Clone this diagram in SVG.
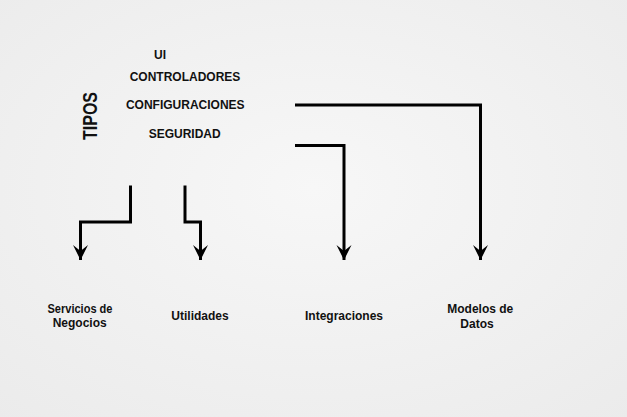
<svg xmlns="http://www.w3.org/2000/svg" width="627" height="417" viewBox="0 0 627 417">
  <defs>
    <radialGradient id="bg" cx="50%" cy="45%" r="75%">
      <stop offset="0" stop-color="#f7f7f7"/>
      <stop offset="1" stop-color="#ebebeb"/>
    </radialGradient>
    <marker id="ah" viewBox="0 0 16 16" refX="15" refY="8" markerWidth="16" markerHeight="16" markerUnits="userSpaceOnUse" orient="auto">
      <path d="M15,8 L0,0.5 L6,8 L0,15.5 Z" fill="#000"/>
    </marker>
  </defs>
  <style>
    text { font-family: "Liberation Sans", Arial, sans-serif; font-weight: bold; fill: #111; text-anchor: middle; }
    .t { font-size: 12px; }
    .l { font-size: 12px; }
    .c { fill: none; stroke: #000; stroke-width: 3; marker-end: url(#ah); }
  </style>
  <rect width="627" height="417" fill="url(#bg)"/>

  <g id="tipos">
    <text transform="translate(97,116) rotate(-90) scale(0.8,1)" style="font-size:20px">TIPOS</text>
  </g>
  <g id="ui"><text class="t" x="160" y="58.5">UI</text></g>
  <g id="controladores"><text class="t" x="185" y="81.3">CONTROLADORES</text></g>
  <g id="configuraciones"><text class="t" x="185.3" y="109.3">CONFIGURACIONES</text></g>
  <g id="seguridad"><text class="t" x="184.7" y="138">SEGURIDAD</text></g>

  <g id="servicios"><text class="l" x="80" y="313" textLength="65" lengthAdjust="spacingAndGlyphs">Servicios de</text><text class="l" x="79.7" y="327">Negocios</text></g>
  <g id="utilidades"><text class="l" x="200" y="320">Utilidades</text></g>
  <g id="integraciones"><text class="l" x="344" y="320">Integraciones</text></g>
  <g id="modelos"><text class="l" x="480.3" y="313">Modelos de</text><text class="l" x="477" y="327.5">Datos</text></g>

  <g id="connectors">
    <path class="c" d="M130.5,185.5 V222 H80.5 V260"/>
    <path class="c" d="M185,185.5 V222 H200.5 V260"/>
    <path class="c" d="M295,105 H480.5 V260"/>
    <path class="c" d="M295,145.5 H344 V260"/>
  </g>
</svg>
